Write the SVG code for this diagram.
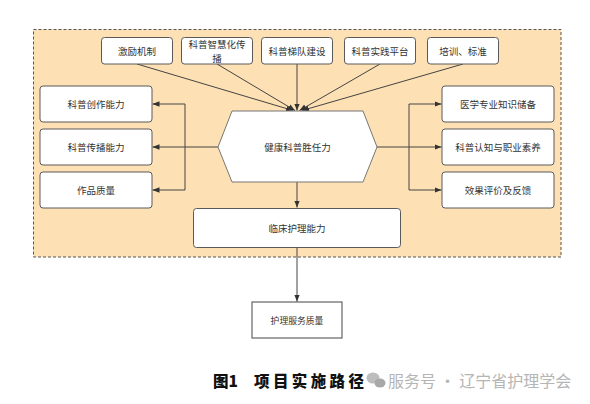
<svg xmlns="http://www.w3.org/2000/svg" width="590" height="404" viewBox="0 0 590 404">
<defs>
<style>
.bx{fill:#fff;stroke:#5a5a5a;stroke-width:1}
.t{font-family:"Noto Sans CJK SC","Liberation Sans",sans-serif;font-size:9.5px;fill:#333;text-anchor:middle;dominant-baseline:central}
.c{fill:none;stroke:#444;stroke-width:1}
</style>
<marker id="ah" viewBox="0 0 10 10" refX="10" refY="5" markerWidth="7" markerHeight="7" markerUnits="userSpaceOnUse" orient="auto">
<path d="M0,1 L10,5 L0,9 Z" fill="#333"/>
</marker>
</defs>
<rect width="590" height="404" fill="#fff"/>
<rect x="33.5" y="29.5" width="527.5" height="227.5" fill="#fde0b3" stroke="#555" stroke-width="1" stroke-dasharray="3,2"/>

<g id="connectors">
<line class="c" x1="137" y1="64" x2="293" y2="110.5" marker-end="url(#ah)"/>
<line class="c" x1="217" y1="64" x2="295" y2="110.5" marker-end="url(#ah)"/>
<line class="c" x1="297" y1="64" x2="297" y2="110.5" marker-end="url(#ah)"/>
<line class="c" x1="380" y1="64" x2="299.5" y2="110.5" marker-end="url(#ah)"/>
<line class="c" x1="463" y1="64" x2="302" y2="110.5" marker-end="url(#ah)"/>
<polyline class="c" points="218,147 185,147"/>
<polyline class="c" points="185,104 185,190"/>
<line class="c" x1="185" y1="104" x2="152.5" y2="104" marker-end="url(#ah)"/>
<line class="c" x1="185" y1="147" x2="152.5" y2="147" marker-end="url(#ah)"/>
<line class="c" x1="185" y1="190" x2="152.5" y2="190" marker-end="url(#ah)"/>
<polyline class="c" points="377,147 409,147"/>
<polyline class="c" points="409,104 409,190"/>
<line class="c" x1="409" y1="104" x2="441.5" y2="104" marker-end="url(#ah)"/>
<line class="c" x1="409" y1="147" x2="441.5" y2="147" marker-end="url(#ah)"/>
<line class="c" x1="409" y1="190" x2="441.5" y2="190" marker-end="url(#ah)"/>
<line class="c" x1="297" y1="182" x2="297" y2="207.5" marker-end="url(#ah)"/>
<line class="c" x1="297" y1="248" x2="297" y2="301.5" marker-end="url(#ah)" stroke-width="1.3"/>
</g>

<g id="n1"><rect class="bx" x="101.5" y="37.5" width="71" height="26.5" rx="3"/><text class="t" x="137" y="51">激励机制</text></g>
<g id="n2"><rect class="bx" x="181.5" y="37.5" width="71" height="26.5" rx="3"/><text class="t" x="217" y="44.3">科普智慧化传</text><text class="t" x="217" y="57.7">播</text></g>
<g id="n3"><rect class="bx" x="261.5" y="37.5" width="71" height="26.5" rx="3"/><text class="t" x="297" y="51">科普梯队建设</text></g>
<g id="n4"><rect class="bx" x="344.5" y="37.5" width="71" height="26.5" rx="3"/><text class="t" x="380" y="51">科普实践平台</text></g>
<g id="n5"><rect class="bx" x="427.5" y="37.5" width="71" height="26.5" rx="3"/><text class="t" x="463" y="51">培训、标准</text></g>

<g id="l1"><rect class="bx" x="40" y="86" width="112" height="36" rx="3"/><text class="t" x="96" y="104">科普创作能力</text></g>
<g id="l2"><rect class="bx" x="40" y="129" width="112" height="36" rx="3"/><text class="t" x="96" y="147">科普传播能力</text></g>
<g id="l3"><rect class="bx" x="40" y="172" width="112" height="36" rx="3"/><text class="t" x="96" y="190">作品质量</text></g>

<g id="r1"><rect class="bx" x="442" y="86" width="112" height="36" rx="3"/><text class="t" x="498" y="104">医学专业知识储备</text></g>
<g id="r2"><rect class="bx" x="442" y="129" width="112" height="36" rx="3"/><text class="t" x="498" y="147">科普认知与职业素养</text></g>
<g id="r3"><rect class="bx" x="442" y="172" width="112" height="36" rx="3"/><text class="t" x="498" y="190">效果评价及反馈</text></g>

<g id="hub"><polygon points="232,111 363,111 377,147 363,182 232,182 218,147" fill="#fff" stroke="#777" stroke-width="1"/><text class="t" x="297.5" y="147">健康科普胜任力</text></g>

<g id="clin"><rect class="bx" x="193.5" y="208.5" width="207" height="39" rx="3"/><text class="t" x="297" y="228">临床护理能力</text></g>

<g id="svc"><rect x="252" y="302" width="90" height="36" fill="#fff" stroke="#444" stroke-width="1"/><text class="t" x="297" y="320" style="font-size:8.8px">护理服务质量</text></g>

<text x="213" y="387" font-family="'Noto Sans CJK SC',sans-serif" font-weight="900" font-size="15.5" fill="#111">图1</text>
<text x="254" y="387" font-family="'Noto Sans CJK SC',sans-serif" font-weight="900" font-size="15.5" letter-spacing="3.4" fill="#111">项目实施路径</text>

<g id="watermark" fill="#bdbdbd">
<ellipse cx="373" cy="378" rx="6.5" ry="5.5"/>
<ellipse cx="380" cy="383" rx="5.5" ry="4.5" fill="#a8a8a8"/>
<text x="388" y="387" font-family="'Noto Sans CJK SC',sans-serif" font-size="16" fill="#b5b5b5">服务号 · 辽宁省护理学会</text>
</g>
</svg>
